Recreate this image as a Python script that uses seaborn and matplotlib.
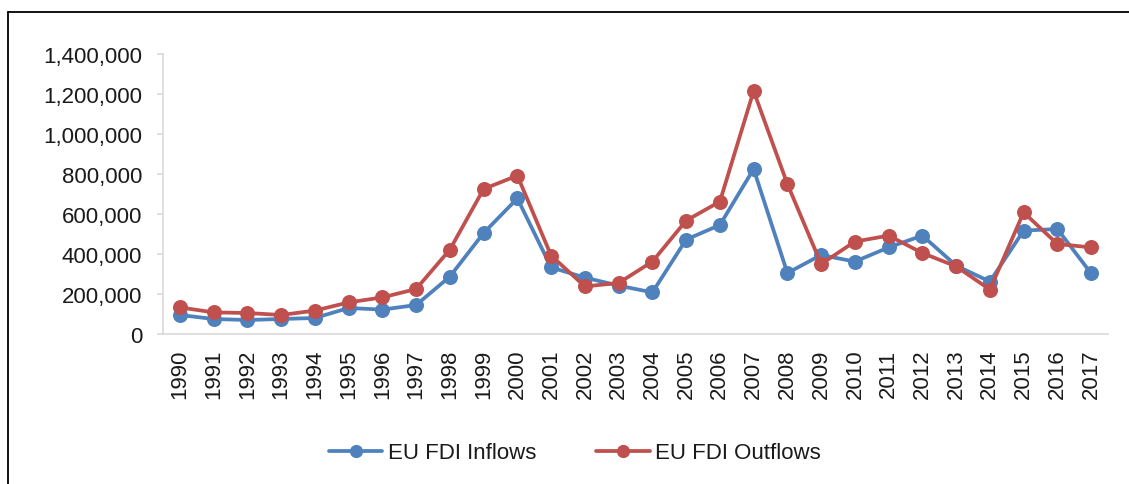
import matplotlib
matplotlib.use("Agg")
import matplotlib.pyplot as plt
from matplotlib.lines import Line2D
from matplotlib.ticker import FuncFormatter
import seaborn as sns
import pandas as pd

years = list(range(1990, 2018))
inflows = [95000, 75000, 70000, 75000, 80000, 130000, 122000, 145000, 287000, 505000,
           678000, 333000, 282000, 242000, 208000, 472000, 545000, 825000, 305000, 395000,
           362000, 433000, 492000, 342000, 262000, 517000, 525000, 303000]
outflows = [133000, 108000, 105000, 95000, 117000, 158000, 183000, 225000, 422000, 725000,
            792000, 392000, 238000, 255000, 362000, 567000, 662000, 1215000, 750000, 350000,
            462000, 492000, 405000, 338000, 222000, 608000, 450000, 433000]
series_names = ["EU FDI Inflows", "EU FDI Outflows"]
colors = ["#4F81BD", "#C0504D"]

df = pd.concat([
    pd.DataFrame({"Year": years, "Value": inflows, "Series": series_names[0]}),
    pd.DataFrame({"Year": years, "Value": outflows, "Series": series_names[1]}),
])

sns.set_theme(style="white")
plt.rcParams["font.family"] = ["Liberation Sans", "DejaVu Sans"]
text_color = "#1a1a1a"

fig = plt.figure(figsize=(11.29, 4.85), dpi=100)
ax = fig.add_axes([163 / 1129, 1 - 335 / 485, (1108 - 163) / 1129, (335 - 55) / 485])

sns.lineplot(data=df, x="Year", y="Value", hue="Series", palette=colors,
             marker="o", markersize=10.8, linewidth=2.7, markeredgewidth=0,
             ax=ax, legend=False)

ax.set_xlim(1989.5, 2017.5)
ax.set_ylim(0, 1400000)
ax.set_xticks(years)
ax.set_xticklabels([str(y) for y in years], rotation=90, fontsize=16, color=text_color)
ax.set_yticks(range(0, 1400001, 200000))
ax.yaxis.set_major_formatter(FuncFormatter(lambda v, p: f"{v:,.0f}"))
for lab in ax.get_yticklabels():
    lab.set_fontsize(16)
    lab.set_color(text_color)
ax.set_xlabel("")
ax.set_ylabel("")

for s in ["top", "right"]:
    ax.spines[s].set_visible(False)
for s in ["left", "bottom"]:
    ax.spines[s].set_color("#D9D9D9")
    ax.spines[s].set_linewidth(1.2)
ax.tick_params(axis="y", which="major", length=4.5, width=1.2, color="#D9D9D9",
               pad=10.5, left=True)
ax.tick_params(axis="x", which="major", length=0, pad=10.5)
ax.grid(False)

handles = [Line2D([0], [0], color=c, linewidth=2.7, marker="o", markersize=9.5,
                  markeredgewidth=0) for c in colors]
fig.legend(handles, series_names, loc="center", bbox_to_anchor=(575 / 1129, 1 - 454 / 485),
           ncol=2, frameon=False, fontsize=16, handlelength=2.4, handletextpad=0.25,
           columnspacing=2.7, labelcolor=text_color)

fig.add_artist(Line2D([7.5 / 1129, 1.0], [1 - 12.5 / 485, 1 - 12.5 / 485],
                      transform=fig.transFigure, color="black", linewidth=1.3))
fig.add_artist(Line2D([7.5 / 1129, 7.5 / 1129], [0.0, 1 - 12.5 / 485],
                      transform=fig.transFigure, color="black", linewidth=1.3))

fig.savefig("out.png", dpi=100)
